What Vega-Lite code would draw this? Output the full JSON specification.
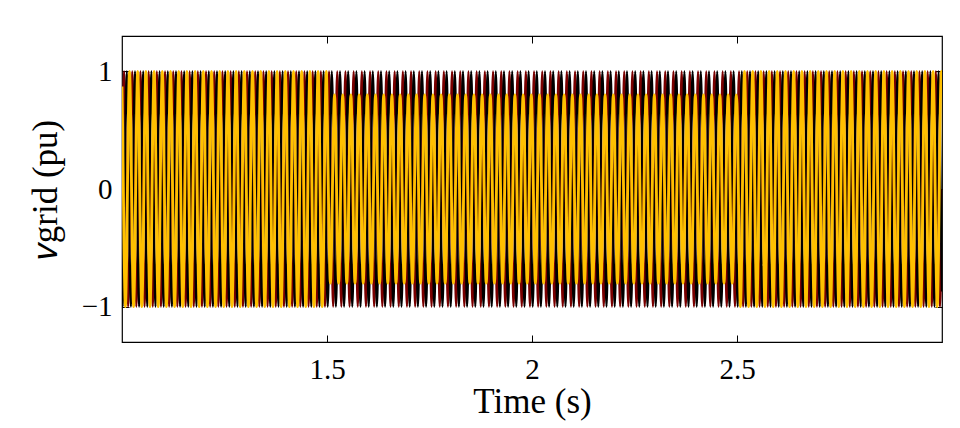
{
"$schema": "https://vega.github.io/schema/vega-lite/v6.json",
"width": 820, "height": 306,
"autosize": "none",
"padding": {"left": 122, "top": 36, "right": 18, "bottom": 86},
"background": "white",
"config": {"view": {"stroke": "#000", "strokeWidth": 1.2}, "font": "Liberation Serif",
 "axis": {"grid": false, "domain": false, "tickColor": "#000", "tickSize": -7, "labelColor": "#000", "titleColor": "#000", "titleFontWeight": "normal", "labelFont": "Liberation Serif", "titleFont": "Liberation Serif"}},
"data": {"values": [
{"t":1,"a":0,"b":-0.87,"c":0.87},
{"t":1.0017,"a":0.5,"b":-1,"c":0.5},{"t":1.005,"a":1,"b":-0.5,"c":-0.5},{"t":1.0083,"a":0.5,"b":0.5,"c":-1},{"t":1.0117,"a":-0.5,"b":1,"c":-0.5},{"t":1.015,"a":-1,"b":0.5,"c":0.5},{"t":1.0183,"a":-0.5,"b":-0.5,"c":1},
{"t":1.0217,"a":0.5,"b":-1,"c":0.5},{"t":1.025,"a":1,"b":-0.5,"c":-0.5},{"t":1.0283,"a":0.5,"b":0.5,"c":-1},{"t":1.0317,"a":-0.5,"b":1,"c":-0.5},{"t":1.035,"a":-1,"b":0.5,"c":0.5},{"t":1.0383,"a":-0.5,"b":-0.5,"c":1},
{"t":1.0417,"a":0.5,"b":-1,"c":0.5},{"t":1.045,"a":1,"b":-0.5,"c":-0.5},{"t":1.0483,"a":0.5,"b":0.5,"c":-1},{"t":1.0517,"a":-0.5,"b":1,"c":-0.5},{"t":1.055,"a":-1,"b":0.5,"c":0.5},{"t":1.0583,"a":-0.5,"b":-0.5,"c":1},
{"t":1.0617,"a":0.5,"b":-1,"c":0.5},{"t":1.065,"a":1,"b":-0.5,"c":-0.5},{"t":1.0683,"a":0.5,"b":0.5,"c":-1},{"t":1.0717,"a":-0.5,"b":1,"c":-0.5},{"t":1.075,"a":-1,"b":0.5,"c":0.5},{"t":1.0783,"a":-0.5,"b":-0.5,"c":1},
{"t":1.0817,"a":0.5,"b":-1,"c":0.5},{"t":1.085,"a":1,"b":-0.5,"c":-0.5},{"t":1.0883,"a":0.5,"b":0.5,"c":-1},{"t":1.0917,"a":-0.5,"b":1,"c":-0.5},{"t":1.095,"a":-1,"b":0.5,"c":0.5},{"t":1.0983,"a":-0.5,"b":-0.5,"c":1},
{"t":1.1017,"a":0.5,"b":-1,"c":0.5},{"t":1.105,"a":1,"b":-0.5,"c":-0.5},{"t":1.1083,"a":0.5,"b":0.5,"c":-1},{"t":1.1117,"a":-0.5,"b":1,"c":-0.5},{"t":1.115,"a":-1,"b":0.5,"c":0.5},{"t":1.1183,"a":-0.5,"b":-0.5,"c":1},
{"t":1.1217,"a":0.5,"b":-1,"c":0.5},{"t":1.125,"a":1,"b":-0.5,"c":-0.5},{"t":1.1283,"a":0.5,"b":0.5,"c":-1},{"t":1.1317,"a":-0.5,"b":1,"c":-0.5},{"t":1.135,"a":-1,"b":0.5,"c":0.5},{"t":1.1383,"a":-0.5,"b":-0.5,"c":1},
{"t":1.1417,"a":0.5,"b":-1,"c":0.5},{"t":1.145,"a":1,"b":-0.5,"c":-0.5},{"t":1.1483,"a":0.5,"b":0.5,"c":-1},{"t":1.1517,"a":-0.5,"b":1,"c":-0.5},{"t":1.155,"a":-1,"b":0.5,"c":0.5},{"t":1.1583,"a":-0.5,"b":-0.5,"c":1},
{"t":1.1617,"a":0.5,"b":-1,"c":0.5},{"t":1.165,"a":1,"b":-0.5,"c":-0.5},{"t":1.1683,"a":0.5,"b":0.5,"c":-1},{"t":1.1717,"a":-0.5,"b":1,"c":-0.5},{"t":1.175,"a":-1,"b":0.5,"c":0.5},{"t":1.1783,"a":-0.5,"b":-0.5,"c":1},
{"t":1.1817,"a":0.5,"b":-1,"c":0.5},{"t":1.185,"a":1,"b":-0.5,"c":-0.5},{"t":1.1883,"a":0.5,"b":0.5,"c":-1},{"t":1.1917,"a":-0.5,"b":1,"c":-0.5},{"t":1.195,"a":-1,"b":0.5,"c":0.5},{"t":1.1983,"a":-0.5,"b":-0.5,"c":1},
{"t":1.2017,"a":0.5,"b":-1,"c":0.5},{"t":1.205,"a":1,"b":-0.5,"c":-0.5},{"t":1.2083,"a":0.5,"b":0.5,"c":-1},{"t":1.2117,"a":-0.5,"b":1,"c":-0.5},{"t":1.215,"a":-1,"b":0.5,"c":0.5},{"t":1.2183,"a":-0.5,"b":-0.5,"c":1},
{"t":1.2217,"a":0.5,"b":-1,"c":0.5},{"t":1.225,"a":1,"b":-0.5,"c":-0.5},{"t":1.2283,"a":0.5,"b":0.5,"c":-1},{"t":1.2317,"a":-0.5,"b":1,"c":-0.5},{"t":1.235,"a":-1,"b":0.5,"c":0.5},{"t":1.2383,"a":-0.5,"b":-0.5,"c":1},
{"t":1.2417,"a":0.5,"b":-1,"c":0.5},{"t":1.245,"a":1,"b":-0.5,"c":-0.5},{"t":1.2483,"a":0.5,"b":0.5,"c":-1},{"t":1.2517,"a":-0.5,"b":1,"c":-0.5},{"t":1.255,"a":-1,"b":0.5,"c":0.5},{"t":1.2583,"a":-0.5,"b":-0.5,"c":1},
{"t":1.2617,"a":0.5,"b":-1,"c":0.5},{"t":1.265,"a":1,"b":-0.5,"c":-0.5},{"t":1.2683,"a":0.5,"b":0.5,"c":-1},{"t":1.2717,"a":-0.5,"b":1,"c":-0.5},{"t":1.275,"a":-1,"b":0.5,"c":0.5},{"t":1.2783,"a":-0.5,"b":-0.5,"c":1},
{"t":1.2817,"a":0.5,"b":-1,"c":0.5},{"t":1.285,"a":1,"b":-0.5,"c":-0.5},{"t":1.2883,"a":0.5,"b":0.5,"c":-1},{"t":1.2917,"a":-0.5,"b":1,"c":-0.5},{"t":1.295,"a":-1,"b":0.5,"c":0.5},{"t":1.2983,"a":-0.5,"b":-0.5,"c":1},
{"t":1.3017,"a":0.5,"b":-1,"c":0.5},{"t":1.305,"a":1,"b":-0.5,"c":-0.5},{"t":1.3083,"a":0.5,"b":0.5,"c":-1},{"t":1.3117,"a":-0.5,"b":1,"c":-0.5},{"t":1.315,"a":-1,"b":0.5,"c":0.5},{"t":1.3183,"a":-0.5,"b":-0.5,"c":1},
{"t":1.3217,"a":0.5,"b":-1,"c":0.5},{"t":1.325,"a":1,"b":-0.5,"c":-0.5},{"t":1.3283,"a":0.5,"b":0.5,"c":-1},{"t":1.3317,"a":-0.5,"b":1,"c":-0.5},{"t":1.335,"a":-1,"b":0.5,"c":0.5},{"t":1.3383,"a":-0.5,"b":-0.5,"c":1},
{"t":1.3417,"a":0.5,"b":-1,"c":0.5},{"t":1.345,"a":1,"b":-0.5,"c":-0.5},{"t":1.3483,"a":0.5,"b":0.5,"c":-1},{"t":1.3517,"a":-0.5,"b":1,"c":-0.5},{"t":1.355,"a":-1,"b":0.5,"c":0.5},{"t":1.3583,"a":-0.5,"b":-0.5,"c":1},
{"t":1.3617,"a":0.5,"b":-1,"c":0.5},{"t":1.365,"a":1,"b":-0.5,"c":-0.5},{"t":1.3683,"a":0.5,"b":0.5,"c":-1},{"t":1.3717,"a":-0.5,"b":1,"c":-0.5},{"t":1.375,"a":-1,"b":0.5,"c":0.5},{"t":1.3783,"a":-0.5,"b":-0.5,"c":1},
{"t":1.3817,"a":0.5,"b":-1,"c":0.5},{"t":1.385,"a":1,"b":-0.5,"c":-0.5},{"t":1.3883,"a":0.5,"b":0.5,"c":-1},{"t":1.3917,"a":-0.5,"b":1,"c":-0.5},{"t":1.395,"a":-1,"b":0.5,"c":0.5},{"t":1.3983,"a":-0.5,"b":-0.5,"c":1},
{"t":1.4017,"a":0.5,"b":-1,"c":0.5},{"t":1.405,"a":1,"b":-0.5,"c":-0.5},{"t":1.4083,"a":0.5,"b":0.5,"c":-1},{"t":1.4117,"a":-0.5,"b":1,"c":-0.5},{"t":1.415,"a":-1,"b":0.5,"c":0.5},{"t":1.4183,"a":-0.5,"b":-0.5,"c":1},
{"t":1.4217,"a":0.5,"b":-1,"c":0.5},{"t":1.425,"a":1,"b":-0.5,"c":-0.5},{"t":1.4283,"a":0.5,"b":0.5,"c":-1},{"t":1.4317,"a":-0.5,"b":1,"c":-0.5},{"t":1.435,"a":-1,"b":0.5,"c":0.5},{"t":1.4383,"a":-0.5,"b":-0.5,"c":1},
{"t":1.4417,"a":0.5,"b":-1,"c":0.5},{"t":1.445,"a":1,"b":-0.5,"c":-0.5},{"t":1.4483,"a":0.5,"b":0.5,"c":-1},{"t":1.4517,"a":-0.5,"b":1,"c":-0.5},{"t":1.455,"a":-1,"b":0.5,"c":0.5},{"t":1.4583,"a":-0.5,"b":-0.5,"c":1},
{"t":1.4617,"a":0.5,"b":-1,"c":0.5},{"t":1.465,"a":1,"b":-0.5,"c":-0.5},{"t":1.4683,"a":0.5,"b":0.5,"c":-1},{"t":1.4717,"a":-0.5,"b":1,"c":-0.5},{"t":1.475,"a":-1,"b":0.5,"c":0.5},{"t":1.4783,"a":-0.5,"b":-0.5,"c":1},
{"t":1.4817,"a":0.5,"b":-1,"c":0.5},{"t":1.485,"a":1,"b":-0.5,"c":-0.5},{"t":1.4883,"a":0.5,"b":0.5,"c":-1},{"t":1.4917,"a":-0.5,"b":1,"c":-0.5},{"t":1.495,"a":-1,"b":0.5,"c":0.5},{"t":1.4983,"a":-0.5,"b":-0.5,"c":1},
{"t":1.5017,"a":0.5,"b":-1,"c":0.4},{"t":1.505,"a":1,"b":-0.5,"c":-0.4},{"t":1.5083,"a":0.5,"b":0.5,"c":-0.8},{"t":1.5117,"a":-0.5,"b":1,"c":-0.4},{"t":1.515,"a":-1,"b":0.5,"c":0.4},{"t":1.5183,"a":-0.5,"b":-0.5,"c":0.8},
{"t":1.5217,"a":0.5,"b":-1,"c":0.4},{"t":1.525,"a":1,"b":-0.5,"c":-0.4},{"t":1.5283,"a":0.5,"b":0.5,"c":-0.8},{"t":1.5317,"a":-0.5,"b":1,"c":-0.4},{"t":1.535,"a":-1,"b":0.5,"c":0.4},{"t":1.5383,"a":-0.5,"b":-0.5,"c":0.8},
{"t":1.5417,"a":0.5,"b":-1,"c":0.4},{"t":1.545,"a":1,"b":-0.5,"c":-0.4},{"t":1.5483,"a":0.5,"b":0.5,"c":-0.8},{"t":1.5517,"a":-0.5,"b":1,"c":-0.4},{"t":1.555,"a":-1,"b":0.5,"c":0.4},{"t":1.5583,"a":-0.5,"b":-0.5,"c":0.8},
{"t":1.5617,"a":0.5,"b":-1,"c":0.4},{"t":1.565,"a":1,"b":-0.5,"c":-0.4},{"t":1.5683,"a":0.5,"b":0.5,"c":-0.8},{"t":1.5717,"a":-0.5,"b":1,"c":-0.4},{"t":1.575,"a":-1,"b":0.5,"c":0.4},{"t":1.5783,"a":-0.5,"b":-0.5,"c":0.8},
{"t":1.5817,"a":0.5,"b":-1,"c":0.4},{"t":1.585,"a":1,"b":-0.5,"c":-0.4},{"t":1.5883,"a":0.5,"b":0.5,"c":-0.8},{"t":1.5917,"a":-0.5,"b":1,"c":-0.4},{"t":1.595,"a":-1,"b":0.5,"c":0.4},{"t":1.5983,"a":-0.5,"b":-0.5,"c":0.8},
{"t":1.6017,"a":0.5,"b":-1,"c":0.4},{"t":1.605,"a":1,"b":-0.5,"c":-0.4},{"t":1.6083,"a":0.5,"b":0.5,"c":-0.8},{"t":1.6117,"a":-0.5,"b":1,"c":-0.4},{"t":1.615,"a":-1,"b":0.5,"c":0.4},{"t":1.6183,"a":-0.5,"b":-0.5,"c":0.8},
{"t":1.6217,"a":0.5,"b":-1,"c":0.4},{"t":1.625,"a":1,"b":-0.5,"c":-0.4},{"t":1.6283,"a":0.5,"b":0.5,"c":-0.8},{"t":1.6317,"a":-0.5,"b":1,"c":-0.4},{"t":1.635,"a":-1,"b":0.5,"c":0.4},{"t":1.6383,"a":-0.5,"b":-0.5,"c":0.8},
{"t":1.6417,"a":0.5,"b":-1,"c":0.4},{"t":1.645,"a":1,"b":-0.5,"c":-0.4},{"t":1.6483,"a":0.5,"b":0.5,"c":-0.8},{"t":1.6517,"a":-0.5,"b":1,"c":-0.4},{"t":1.655,"a":-1,"b":0.5,"c":0.4},{"t":1.6583,"a":-0.5,"b":-0.5,"c":0.8},
{"t":1.6617,"a":0.5,"b":-1,"c":0.4},{"t":1.665,"a":1,"b":-0.5,"c":-0.4},{"t":1.6683,"a":0.5,"b":0.5,"c":-0.8},{"t":1.6717,"a":-0.5,"b":1,"c":-0.4},{"t":1.675,"a":-1,"b":0.5,"c":0.4},{"t":1.6783,"a":-0.5,"b":-0.5,"c":0.8},
{"t":1.6817,"a":0.5,"b":-1,"c":0.4},{"t":1.685,"a":1,"b":-0.5,"c":-0.4},{"t":1.6883,"a":0.5,"b":0.5,"c":-0.8},{"t":1.6917,"a":-0.5,"b":1,"c":-0.4},{"t":1.695,"a":-1,"b":0.5,"c":0.4},{"t":1.6983,"a":-0.5,"b":-0.5,"c":0.8},
{"t":1.7017,"a":0.5,"b":-1,"c":0.4},{"t":1.705,"a":1,"b":-0.5,"c":-0.4},{"t":1.7083,"a":0.5,"b":0.5,"c":-0.8},{"t":1.7117,"a":-0.5,"b":1,"c":-0.4},{"t":1.715,"a":-1,"b":0.5,"c":0.4},{"t":1.7183,"a":-0.5,"b":-0.5,"c":0.8},
{"t":1.7217,"a":0.5,"b":-1,"c":0.4},{"t":1.725,"a":1,"b":-0.5,"c":-0.4},{"t":1.7283,"a":0.5,"b":0.5,"c":-0.8},{"t":1.7317,"a":-0.5,"b":1,"c":-0.4},{"t":1.735,"a":-1,"b":0.5,"c":0.4},{"t":1.7383,"a":-0.5,"b":-0.5,"c":0.8},
{"t":1.7417,"a":0.5,"b":-1,"c":0.4},{"t":1.745,"a":1,"b":-0.5,"c":-0.4},{"t":1.7483,"a":0.5,"b":0.5,"c":-0.8},{"t":1.7517,"a":-0.5,"b":1,"c":-0.4},{"t":1.755,"a":-1,"b":0.5,"c":0.4},{"t":1.7583,"a":-0.5,"b":-0.5,"c":0.8},
{"t":1.7617,"a":0.5,"b":-1,"c":0.4},{"t":1.765,"a":1,"b":-0.5,"c":-0.4},{"t":1.7683,"a":0.5,"b":0.5,"c":-0.8},{"t":1.7717,"a":-0.5,"b":1,"c":-0.4},{"t":1.775,"a":-1,"b":0.5,"c":0.4},{"t":1.7783,"a":-0.5,"b":-0.5,"c":0.8},
{"t":1.7817,"a":0.5,"b":-1,"c":0.4},{"t":1.785,"a":1,"b":-0.5,"c":-0.4},{"t":1.7883,"a":0.5,"b":0.5,"c":-0.8},{"t":1.7917,"a":-0.5,"b":1,"c":-0.4},{"t":1.795,"a":-1,"b":0.5,"c":0.4},{"t":1.7983,"a":-0.5,"b":-0.5,"c":0.8},
{"t":1.8017,"a":0.5,"b":-1,"c":0.4},{"t":1.805,"a":1,"b":-0.5,"c":-0.4},{"t":1.8083,"a":0.5,"b":0.5,"c":-0.8},{"t":1.8117,"a":-0.5,"b":1,"c":-0.4},{"t":1.815,"a":-1,"b":0.5,"c":0.4},{"t":1.8183,"a":-0.5,"b":-0.5,"c":0.8},
{"t":1.8217,"a":0.5,"b":-1,"c":0.4},{"t":1.825,"a":1,"b":-0.5,"c":-0.4},{"t":1.8283,"a":0.5,"b":0.5,"c":-0.8},{"t":1.8317,"a":-0.5,"b":1,"c":-0.4},{"t":1.835,"a":-1,"b":0.5,"c":0.4},{"t":1.8383,"a":-0.5,"b":-0.5,"c":0.8},
{"t":1.8417,"a":0.5,"b":-1,"c":0.4},{"t":1.845,"a":1,"b":-0.5,"c":-0.4},{"t":1.8483,"a":0.5,"b":0.5,"c":-0.8},{"t":1.8517,"a":-0.5,"b":1,"c":-0.4},{"t":1.855,"a":-1,"b":0.5,"c":0.4},{"t":1.8583,"a":-0.5,"b":-0.5,"c":0.8},
{"t":1.8617,"a":0.5,"b":-1,"c":0.4},{"t":1.865,"a":1,"b":-0.5,"c":-0.4},{"t":1.8683,"a":0.5,"b":0.5,"c":-0.8},{"t":1.8717,"a":-0.5,"b":1,"c":-0.4},{"t":1.875,"a":-1,"b":0.5,"c":0.4},{"t":1.8783,"a":-0.5,"b":-0.5,"c":0.8},
{"t":1.8817,"a":0.5,"b":-1,"c":0.4},{"t":1.885,"a":1,"b":-0.5,"c":-0.4},{"t":1.8883,"a":0.5,"b":0.5,"c":-0.8},{"t":1.8917,"a":-0.5,"b":1,"c":-0.4},{"t":1.895,"a":-1,"b":0.5,"c":0.4},{"t":1.8983,"a":-0.5,"b":-0.5,"c":0.8},
{"t":1.9017,"a":0.5,"b":-1,"c":0.4},{"t":1.905,"a":1,"b":-0.5,"c":-0.4},{"t":1.9083,"a":0.5,"b":0.5,"c":-0.8},{"t":1.9117,"a":-0.5,"b":1,"c":-0.4},{"t":1.915,"a":-1,"b":0.5,"c":0.4},{"t":1.9183,"a":-0.5,"b":-0.5,"c":0.8},
{"t":1.9217,"a":0.5,"b":-1,"c":0.4},{"t":1.925,"a":1,"b":-0.5,"c":-0.4},{"t":1.9283,"a":0.5,"b":0.5,"c":-0.8},{"t":1.9317,"a":-0.5,"b":1,"c":-0.4},{"t":1.935,"a":-1,"b":0.5,"c":0.4},{"t":1.9383,"a":-0.5,"b":-0.5,"c":0.8},
{"t":1.9417,"a":0.5,"b":-1,"c":0.4},{"t":1.945,"a":1,"b":-0.5,"c":-0.4},{"t":1.9483,"a":0.5,"b":0.5,"c":-0.8},{"t":1.9517,"a":-0.5,"b":1,"c":-0.4},{"t":1.955,"a":-1,"b":0.5,"c":0.4},{"t":1.9583,"a":-0.5,"b":-0.5,"c":0.8},
{"t":1.9617,"a":0.5,"b":-1,"c":0.4},{"t":1.965,"a":1,"b":-0.5,"c":-0.4},{"t":1.9683,"a":0.5,"b":0.5,"c":-0.8},{"t":1.9717,"a":-0.5,"b":1,"c":-0.4},{"t":1.975,"a":-1,"b":0.5,"c":0.4},{"t":1.9783,"a":-0.5,"b":-0.5,"c":0.8},
{"t":1.9817,"a":0.5,"b":-1,"c":0.4},{"t":1.985,"a":1,"b":-0.5,"c":-0.4},{"t":1.9883,"a":0.5,"b":0.5,"c":-0.8},{"t":1.9917,"a":-0.5,"b":1,"c":-0.4},{"t":1.995,"a":-1,"b":0.5,"c":0.4},{"t":1.9983,"a":-0.5,"b":-0.5,"c":0.8},
{"t":2.0017,"a":0.5,"b":-1,"c":0.4},{"t":2.005,"a":1,"b":-0.5,"c":-0.4},{"t":2.0083,"a":0.5,"b":0.5,"c":-0.8},{"t":2.0117,"a":-0.5,"b":1,"c":-0.4},{"t":2.015,"a":-1,"b":0.5,"c":0.4},{"t":2.0183,"a":-0.5,"b":-0.5,"c":0.8},
{"t":2.0217,"a":0.5,"b":-1,"c":0.4},{"t":2.025,"a":1,"b":-0.5,"c":-0.4},{"t":2.0283,"a":0.5,"b":0.5,"c":-0.8},{"t":2.0317,"a":-0.5,"b":1,"c":-0.4},{"t":2.035,"a":-1,"b":0.5,"c":0.4},{"t":2.0383,"a":-0.5,"b":-0.5,"c":0.8},
{"t":2.0417,"a":0.5,"b":-1,"c":0.4},{"t":2.045,"a":1,"b":-0.5,"c":-0.4},{"t":2.0483,"a":0.5,"b":0.5,"c":-0.8},{"t":2.0517,"a":-0.5,"b":1,"c":-0.4},{"t":2.055,"a":-1,"b":0.5,"c":0.4},{"t":2.0583,"a":-0.5,"b":-0.5,"c":0.8},
{"t":2.0617,"a":0.5,"b":-1,"c":0.4},{"t":2.065,"a":1,"b":-0.5,"c":-0.4},{"t":2.0683,"a":0.5,"b":0.5,"c":-0.8},{"t":2.0717,"a":-0.5,"b":1,"c":-0.4},{"t":2.075,"a":-1,"b":0.5,"c":0.4},{"t":2.0783,"a":-0.5,"b":-0.5,"c":0.8},
{"t":2.0817,"a":0.5,"b":-1,"c":0.4},{"t":2.085,"a":1,"b":-0.5,"c":-0.4},{"t":2.0883,"a":0.5,"b":0.5,"c":-0.8},{"t":2.0917,"a":-0.5,"b":1,"c":-0.4},{"t":2.095,"a":-1,"b":0.5,"c":0.4},{"t":2.0983,"a":-0.5,"b":-0.5,"c":0.8},
{"t":2.1017,"a":0.5,"b":-1,"c":0.4},{"t":2.105,"a":1,"b":-0.5,"c":-0.4},{"t":2.1083,"a":0.5,"b":0.5,"c":-0.8},{"t":2.1117,"a":-0.5,"b":1,"c":-0.4},{"t":2.115,"a":-1,"b":0.5,"c":0.4},{"t":2.1183,"a":-0.5,"b":-0.5,"c":0.8},
{"t":2.1217,"a":0.5,"b":-1,"c":0.4},{"t":2.125,"a":1,"b":-0.5,"c":-0.4},{"t":2.1283,"a":0.5,"b":0.5,"c":-0.8},{"t":2.1317,"a":-0.5,"b":1,"c":-0.4},{"t":2.135,"a":-1,"b":0.5,"c":0.4},{"t":2.1383,"a":-0.5,"b":-0.5,"c":0.8},
{"t":2.1417,"a":0.5,"b":-1,"c":0.4},{"t":2.145,"a":1,"b":-0.5,"c":-0.4},{"t":2.1483,"a":0.5,"b":0.5,"c":-0.8},{"t":2.1517,"a":-0.5,"b":1,"c":-0.4},{"t":2.155,"a":-1,"b":0.5,"c":0.4},{"t":2.1583,"a":-0.5,"b":-0.5,"c":0.8},
{"t":2.1617,"a":0.5,"b":-1,"c":0.4},{"t":2.165,"a":1,"b":-0.5,"c":-0.4},{"t":2.1683,"a":0.5,"b":0.5,"c":-0.8},{"t":2.1717,"a":-0.5,"b":1,"c":-0.4},{"t":2.175,"a":-1,"b":0.5,"c":0.4},{"t":2.1783,"a":-0.5,"b":-0.5,"c":0.8},
{"t":2.1817,"a":0.5,"b":-1,"c":0.4},{"t":2.185,"a":1,"b":-0.5,"c":-0.4},{"t":2.1883,"a":0.5,"b":0.5,"c":-0.8},{"t":2.1917,"a":-0.5,"b":1,"c":-0.4},{"t":2.195,"a":-1,"b":0.5,"c":0.4},{"t":2.1983,"a":-0.5,"b":-0.5,"c":0.8},
{"t":2.2017,"a":0.5,"b":-1,"c":0.4},{"t":2.205,"a":1,"b":-0.5,"c":-0.4},{"t":2.2083,"a":0.5,"b":0.5,"c":-0.8},{"t":2.2117,"a":-0.5,"b":1,"c":-0.4},{"t":2.215,"a":-1,"b":0.5,"c":0.4},{"t":2.2183,"a":-0.5,"b":-0.5,"c":0.8},
{"t":2.2217,"a":0.5,"b":-1,"c":0.4},{"t":2.225,"a":1,"b":-0.5,"c":-0.4},{"t":2.2283,"a":0.5,"b":0.5,"c":-0.8},{"t":2.2317,"a":-0.5,"b":1,"c":-0.4},{"t":2.235,"a":-1,"b":0.5,"c":0.4},{"t":2.2383,"a":-0.5,"b":-0.5,"c":0.8},
{"t":2.2417,"a":0.5,"b":-1,"c":0.4},{"t":2.245,"a":1,"b":-0.5,"c":-0.4},{"t":2.2483,"a":0.5,"b":0.5,"c":-0.8},{"t":2.2517,"a":-0.5,"b":1,"c":-0.4},{"t":2.255,"a":-1,"b":0.5,"c":0.4},{"t":2.2583,"a":-0.5,"b":-0.5,"c":0.8},
{"t":2.2617,"a":0.5,"b":-1,"c":0.4},{"t":2.265,"a":1,"b":-0.5,"c":-0.4},{"t":2.2683,"a":0.5,"b":0.5,"c":-0.8},{"t":2.2717,"a":-0.5,"b":1,"c":-0.4},{"t":2.275,"a":-1,"b":0.5,"c":0.4},{"t":2.2783,"a":-0.5,"b":-0.5,"c":0.8},
{"t":2.2817,"a":0.5,"b":-1,"c":0.4},{"t":2.285,"a":1,"b":-0.5,"c":-0.4},{"t":2.2883,"a":0.5,"b":0.5,"c":-0.8},{"t":2.2917,"a":-0.5,"b":1,"c":-0.4},{"t":2.295,"a":-1,"b":0.5,"c":0.4},{"t":2.2983,"a":-0.5,"b":-0.5,"c":0.8},
{"t":2.3017,"a":0.5,"b":-1,"c":0.4},{"t":2.305,"a":1,"b":-0.5,"c":-0.4},{"t":2.3083,"a":0.5,"b":0.5,"c":-0.8},{"t":2.3117,"a":-0.5,"b":1,"c":-0.4},{"t":2.315,"a":-1,"b":0.5,"c":0.4},{"t":2.3183,"a":-0.5,"b":-0.5,"c":0.8},
{"t":2.3217,"a":0.5,"b":-1,"c":0.4},{"t":2.325,"a":1,"b":-0.5,"c":-0.4},{"t":2.3283,"a":0.5,"b":0.5,"c":-0.8},{"t":2.3317,"a":-0.5,"b":1,"c":-0.4},{"t":2.335,"a":-1,"b":0.5,"c":0.4},{"t":2.3383,"a":-0.5,"b":-0.5,"c":0.8},
{"t":2.3417,"a":0.5,"b":-1,"c":0.4},{"t":2.345,"a":1,"b":-0.5,"c":-0.4},{"t":2.3483,"a":0.5,"b":0.5,"c":-0.8},{"t":2.3517,"a":-0.5,"b":1,"c":-0.4},{"t":2.355,"a":-1,"b":0.5,"c":0.4},{"t":2.3583,"a":-0.5,"b":-0.5,"c":0.8},
{"t":2.3617,"a":0.5,"b":-1,"c":0.4},{"t":2.365,"a":1,"b":-0.5,"c":-0.4},{"t":2.3683,"a":0.5,"b":0.5,"c":-0.8},{"t":2.3717,"a":-0.5,"b":1,"c":-0.4},{"t":2.375,"a":-1,"b":0.5,"c":0.4},{"t":2.3783,"a":-0.5,"b":-0.5,"c":0.8},
{"t":2.3817,"a":0.5,"b":-1,"c":0.4},{"t":2.385,"a":1,"b":-0.5,"c":-0.4},{"t":2.3883,"a":0.5,"b":0.5,"c":-0.8},{"t":2.3917,"a":-0.5,"b":1,"c":-0.4},{"t":2.395,"a":-1,"b":0.5,"c":0.4},{"t":2.3983,"a":-0.5,"b":-0.5,"c":0.8},
{"t":2.4017,"a":0.5,"b":-1,"c":0.4},{"t":2.405,"a":1,"b":-0.5,"c":-0.4},{"t":2.4083,"a":0.5,"b":0.5,"c":-0.8},{"t":2.4117,"a":-0.5,"b":1,"c":-0.4},{"t":2.415,"a":-1,"b":0.5,"c":0.4},{"t":2.4183,"a":-0.5,"b":-0.5,"c":0.8},
{"t":2.4217,"a":0.5,"b":-1,"c":0.4},{"t":2.425,"a":1,"b":-0.5,"c":-0.4},{"t":2.4283,"a":0.5,"b":0.5,"c":-0.8},{"t":2.4317,"a":-0.5,"b":1,"c":-0.4},{"t":2.435,"a":-1,"b":0.5,"c":0.4},{"t":2.4383,"a":-0.5,"b":-0.5,"c":0.8},
{"t":2.4417,"a":0.5,"b":-1,"c":0.4},{"t":2.445,"a":1,"b":-0.5,"c":-0.4},{"t":2.4483,"a":0.5,"b":0.5,"c":-0.8},{"t":2.4517,"a":-0.5,"b":1,"c":-0.4},{"t":2.455,"a":-1,"b":0.5,"c":0.4},{"t":2.4583,"a":-0.5,"b":-0.5,"c":0.8},
{"t":2.4617,"a":0.5,"b":-1,"c":0.4},{"t":2.465,"a":1,"b":-0.5,"c":-0.4},{"t":2.4683,"a":0.5,"b":0.5,"c":-0.8},{"t":2.4717,"a":-0.5,"b":1,"c":-0.4},{"t":2.475,"a":-1,"b":0.5,"c":0.4},{"t":2.4783,"a":-0.5,"b":-0.5,"c":0.8},
{"t":2.4817,"a":0.5,"b":-1,"c":0.4},{"t":2.485,"a":1,"b":-0.5,"c":-0.4},{"t":2.4883,"a":0.5,"b":0.5,"c":-0.8},{"t":2.4917,"a":-0.5,"b":1,"c":-0.4},{"t":2.495,"a":-1,"b":0.5,"c":0.4},{"t":2.4983,"a":-0.5,"b":-0.5,"c":0.8},
{"t":2.5017,"a":0.5,"b":-1,"c":0.5},{"t":2.505,"a":1,"b":-0.5,"c":-0.5},{"t":2.5083,"a":0.5,"b":0.5,"c":-1},{"t":2.5117,"a":-0.5,"b":1,"c":-0.5},{"t":2.515,"a":-1,"b":0.5,"c":0.5},{"t":2.5183,"a":-0.5,"b":-0.5,"c":1},
{"t":2.5217,"a":0.5,"b":-1,"c":0.5},{"t":2.525,"a":1,"b":-0.5,"c":-0.5},{"t":2.5283,"a":0.5,"b":0.5,"c":-1},{"t":2.5317,"a":-0.5,"b":1,"c":-0.5},{"t":2.535,"a":-1,"b":0.5,"c":0.5},{"t":2.5383,"a":-0.5,"b":-0.5,"c":1},
{"t":2.5417,"a":0.5,"b":-1,"c":0.5},{"t":2.545,"a":1,"b":-0.5,"c":-0.5},{"t":2.5483,"a":0.5,"b":0.5,"c":-1},{"t":2.5517,"a":-0.5,"b":1,"c":-0.5},{"t":2.555,"a":-1,"b":0.5,"c":0.5},{"t":2.5583,"a":-0.5,"b":-0.5,"c":1},
{"t":2.5617,"a":0.5,"b":-1,"c":0.5},{"t":2.565,"a":1,"b":-0.5,"c":-0.5},{"t":2.5683,"a":0.5,"b":0.5,"c":-1},{"t":2.5717,"a":-0.5,"b":1,"c":-0.5},{"t":2.575,"a":-1,"b":0.5,"c":0.5},{"t":2.5783,"a":-0.5,"b":-0.5,"c":1},
{"t":2.5817,"a":0.5,"b":-1,"c":0.5},{"t":2.585,"a":1,"b":-0.5,"c":-0.5},{"t":2.5883,"a":0.5,"b":0.5,"c":-1},{"t":2.5917,"a":-0.5,"b":1,"c":-0.5},{"t":2.595,"a":-1,"b":0.5,"c":0.5},{"t":2.5983,"a":-0.5,"b":-0.5,"c":1},
{"t":2.6017,"a":0.5,"b":-1,"c":0.5},{"t":2.605,"a":1,"b":-0.5,"c":-0.5},{"t":2.6083,"a":0.5,"b":0.5,"c":-1},{"t":2.6117,"a":-0.5,"b":1,"c":-0.5},{"t":2.615,"a":-1,"b":0.5,"c":0.5},{"t":2.6183,"a":-0.5,"b":-0.5,"c":1},
{"t":2.6217,"a":0.5,"b":-1,"c":0.5},{"t":2.625,"a":1,"b":-0.5,"c":-0.5},{"t":2.6283,"a":0.5,"b":0.5,"c":-1},{"t":2.6317,"a":-0.5,"b":1,"c":-0.5},{"t":2.635,"a":-1,"b":0.5,"c":0.5},{"t":2.6383,"a":-0.5,"b":-0.5,"c":1},
{"t":2.6417,"a":0.5,"b":-1,"c":0.5},{"t":2.645,"a":1,"b":-0.5,"c":-0.5},{"t":2.6483,"a":0.5,"b":0.5,"c":-1},{"t":2.6517,"a":-0.5,"b":1,"c":-0.5},{"t":2.655,"a":-1,"b":0.5,"c":0.5},{"t":2.6583,"a":-0.5,"b":-0.5,"c":1},
{"t":2.6617,"a":0.5,"b":-1,"c":0.5},{"t":2.665,"a":1,"b":-0.5,"c":-0.5},{"t":2.6683,"a":0.5,"b":0.5,"c":-1},{"t":2.6717,"a":-0.5,"b":1,"c":-0.5},{"t":2.675,"a":-1,"b":0.5,"c":0.5},{"t":2.6783,"a":-0.5,"b":-0.5,"c":1},
{"t":2.6817,"a":0.5,"b":-1,"c":0.5},{"t":2.685,"a":1,"b":-0.5,"c":-0.5},{"t":2.6883,"a":0.5,"b":0.5,"c":-1},{"t":2.6917,"a":-0.5,"b":1,"c":-0.5},{"t":2.695,"a":-1,"b":0.5,"c":0.5},{"t":2.6983,"a":-0.5,"b":-0.5,"c":1},
{"t":2.7017,"a":0.5,"b":-1,"c":0.5},{"t":2.705,"a":1,"b":-0.5,"c":-0.5},{"t":2.7083,"a":0.5,"b":0.5,"c":-1},{"t":2.7117,"a":-0.5,"b":1,"c":-0.5},{"t":2.715,"a":-1,"b":0.5,"c":0.5},{"t":2.7183,"a":-0.5,"b":-0.5,"c":1},
{"t":2.7217,"a":0.5,"b":-1,"c":0.5},{"t":2.725,"a":1,"b":-0.5,"c":-0.5},{"t":2.7283,"a":0.5,"b":0.5,"c":-1},{"t":2.7317,"a":-0.5,"b":1,"c":-0.5},{"t":2.735,"a":-1,"b":0.5,"c":0.5},{"t":2.7383,"a":-0.5,"b":-0.5,"c":1},
{"t":2.7417,"a":0.5,"b":-1,"c":0.5},{"t":2.745,"a":1,"b":-0.5,"c":-0.5},{"t":2.7483,"a":0.5,"b":0.5,"c":-1},{"t":2.7517,"a":-0.5,"b":1,"c":-0.5},{"t":2.755,"a":-1,"b":0.5,"c":0.5},{"t":2.7583,"a":-0.5,"b":-0.5,"c":1},
{"t":2.7617,"a":0.5,"b":-1,"c":0.5},{"t":2.765,"a":1,"b":-0.5,"c":-0.5},{"t":2.7683,"a":0.5,"b":0.5,"c":-1},{"t":2.7717,"a":-0.5,"b":1,"c":-0.5},{"t":2.775,"a":-1,"b":0.5,"c":0.5},{"t":2.7783,"a":-0.5,"b":-0.5,"c":1},
{"t":2.7817,"a":0.5,"b":-1,"c":0.5},{"t":2.785,"a":1,"b":-0.5,"c":-0.5},{"t":2.7883,"a":0.5,"b":0.5,"c":-1},{"t":2.7917,"a":-0.5,"b":1,"c":-0.5},{"t":2.795,"a":-1,"b":0.5,"c":0.5},{"t":2.7983,"a":-0.5,"b":-0.5,"c":1},
{"t":2.8017,"a":0.5,"b":-1,"c":0.5},{"t":2.805,"a":1,"b":-0.5,"c":-0.5},{"t":2.8083,"a":0.5,"b":0.5,"c":-1},{"t":2.8117,"a":-0.5,"b":1,"c":-0.5},{"t":2.815,"a":-1,"b":0.5,"c":0.5},{"t":2.8183,"a":-0.5,"b":-0.5,"c":1},
{"t":2.8217,"a":0.5,"b":-1,"c":0.5},{"t":2.825,"a":1,"b":-0.5,"c":-0.5},{"t":2.8283,"a":0.5,"b":0.5,"c":-1},{"t":2.8317,"a":-0.5,"b":1,"c":-0.5},{"t":2.835,"a":-1,"b":0.5,"c":0.5},{"t":2.8383,"a":-0.5,"b":-0.5,"c":1},
{"t":2.8417,"a":0.5,"b":-1,"c":0.5},{"t":2.845,"a":1,"b":-0.5,"c":-0.5},{"t":2.8483,"a":0.5,"b":0.5,"c":-1},{"t":2.8517,"a":-0.5,"b":1,"c":-0.5},{"t":2.855,"a":-1,"b":0.5,"c":0.5},{"t":2.8583,"a":-0.5,"b":-0.5,"c":1},
{"t":2.8617,"a":0.5,"b":-1,"c":0.5},{"t":2.865,"a":1,"b":-0.5,"c":-0.5},{"t":2.8683,"a":0.5,"b":0.5,"c":-1},{"t":2.8717,"a":-0.5,"b":1,"c":-0.5},{"t":2.875,"a":-1,"b":0.5,"c":0.5},{"t":2.8783,"a":-0.5,"b":-0.5,"c":1},
{"t":2.8817,"a":0.5,"b":-1,"c":0.5},{"t":2.885,"a":1,"b":-0.5,"c":-0.5},{"t":2.8883,"a":0.5,"b":0.5,"c":-1},{"t":2.8917,"a":-0.5,"b":1,"c":-0.5},{"t":2.895,"a":-1,"b":0.5,"c":0.5},{"t":2.8983,"a":-0.5,"b":-0.5,"c":1},
{"t":2.9017,"a":0.5,"b":-1,"c":0.5},{"t":2.905,"a":1,"b":-0.5,"c":-0.5},{"t":2.9083,"a":0.5,"b":0.5,"c":-1},{"t":2.9117,"a":-0.5,"b":1,"c":-0.5},{"t":2.915,"a":-1,"b":0.5,"c":0.5},{"t":2.9183,"a":-0.5,"b":-0.5,"c":1},
{"t":2.9217,"a":0.5,"b":-1,"c":0.5},{"t":2.925,"a":1,"b":-0.5,"c":-0.5},{"t":2.9283,"a":0.5,"b":0.5,"c":-1},{"t":2.9317,"a":-0.5,"b":1,"c":-0.5},{"t":2.935,"a":-1,"b":0.5,"c":0.5},{"t":2.9383,"a":-0.5,"b":-0.5,"c":1},
{"t":2.9417,"a":0.5,"b":-1,"c":0.5},{"t":2.945,"a":1,"b":-0.5,"c":-0.5},{"t":2.9483,"a":0.5,"b":0.5,"c":-1},{"t":2.9517,"a":-0.5,"b":1,"c":-0.5},{"t":2.955,"a":-1,"b":0.5,"c":0.5},{"t":2.9583,"a":-0.5,"b":-0.5,"c":1},
{"t":2.9617,"a":0.5,"b":-1,"c":0.5},{"t":2.965,"a":1,"b":-0.5,"c":-0.5},{"t":2.9683,"a":0.5,"b":0.5,"c":-1},{"t":2.9717,"a":-0.5,"b":1,"c":-0.5},{"t":2.975,"a":-1,"b":0.5,"c":0.5},{"t":2.9783,"a":-0.5,"b":-0.5,"c":1},
{"t":2.9817,"a":0.5,"b":-1,"c":0.5},{"t":2.985,"a":1,"b":-0.5,"c":-0.5},{"t":2.9883,"a":0.5,"b":0.5,"c":-1},{"t":2.9917,"a":-0.5,"b":1,"c":-0.5},{"t":2.995,"a":-1,"b":0.5,"c":0.5},{"t":2.9983,"a":-0.5,"b":-0.5,"c":1},
{"t":3,"a":0,"b":-0.87,"c":0.87}
]},
"resolve": {"axis": {"x": "independent", "y": "independent"}},
"layer": [
 {"mark": {"type": "line", "color": "#7A0000", "strokeWidth": 2.2, "interpolate": "monotone", "clip": true},
  "encoding": {
   "x": {"field": "t", "type": "quantitative", "scale": {"domain": [1, 3], "nice": false, "zero": false},
     "axis": {"orient": "bottom", "values": [1.5, 2, 2.5], "format": "~g", "title": "Time (s)", "labelFontSize": 29, "titleFontSize": 35, "labelPadding": 20, "titlePadding": 0}},
   "y": {"field": "a", "type": "quantitative", "scale": {"domain": [-1.3, 1.3], "nice": false, "zero": false},
     "axis": {"orient": "left", "values": [-1, 0, 1], "title": "𝑣grid (pu)", "labelFontSize": 29, "titleFontSize": 35, "labelPadding": 17, "titlePadding": 18}}
  }},
 {"mark": {"type": "line", "color": "#000000", "strokeWidth": 2.2, "interpolate": "monotone", "clip": true},
  "encoding": {
   "x": {"field": "t", "type": "quantitative", "axis": {"orient": "top", "values": [1.5, 2, 2.5], "labels": false, "title": null}},
   "y": {"field": "b", "type": "quantitative", "axis": {"orient": "right", "values": [-1, 0, 1], "labels": false, "title": null}}
  }},
 {"mark": {"type": "line", "color": "#FFC000", "strokeWidth": 2.8, "interpolate": "monotone", "clip": true},
  "encoding": {
   "x": {"field": "t", "type": "quantitative", "axis": null},
   "y": {"field": "c", "type": "quantitative", "axis": null}
  }}
]
}
